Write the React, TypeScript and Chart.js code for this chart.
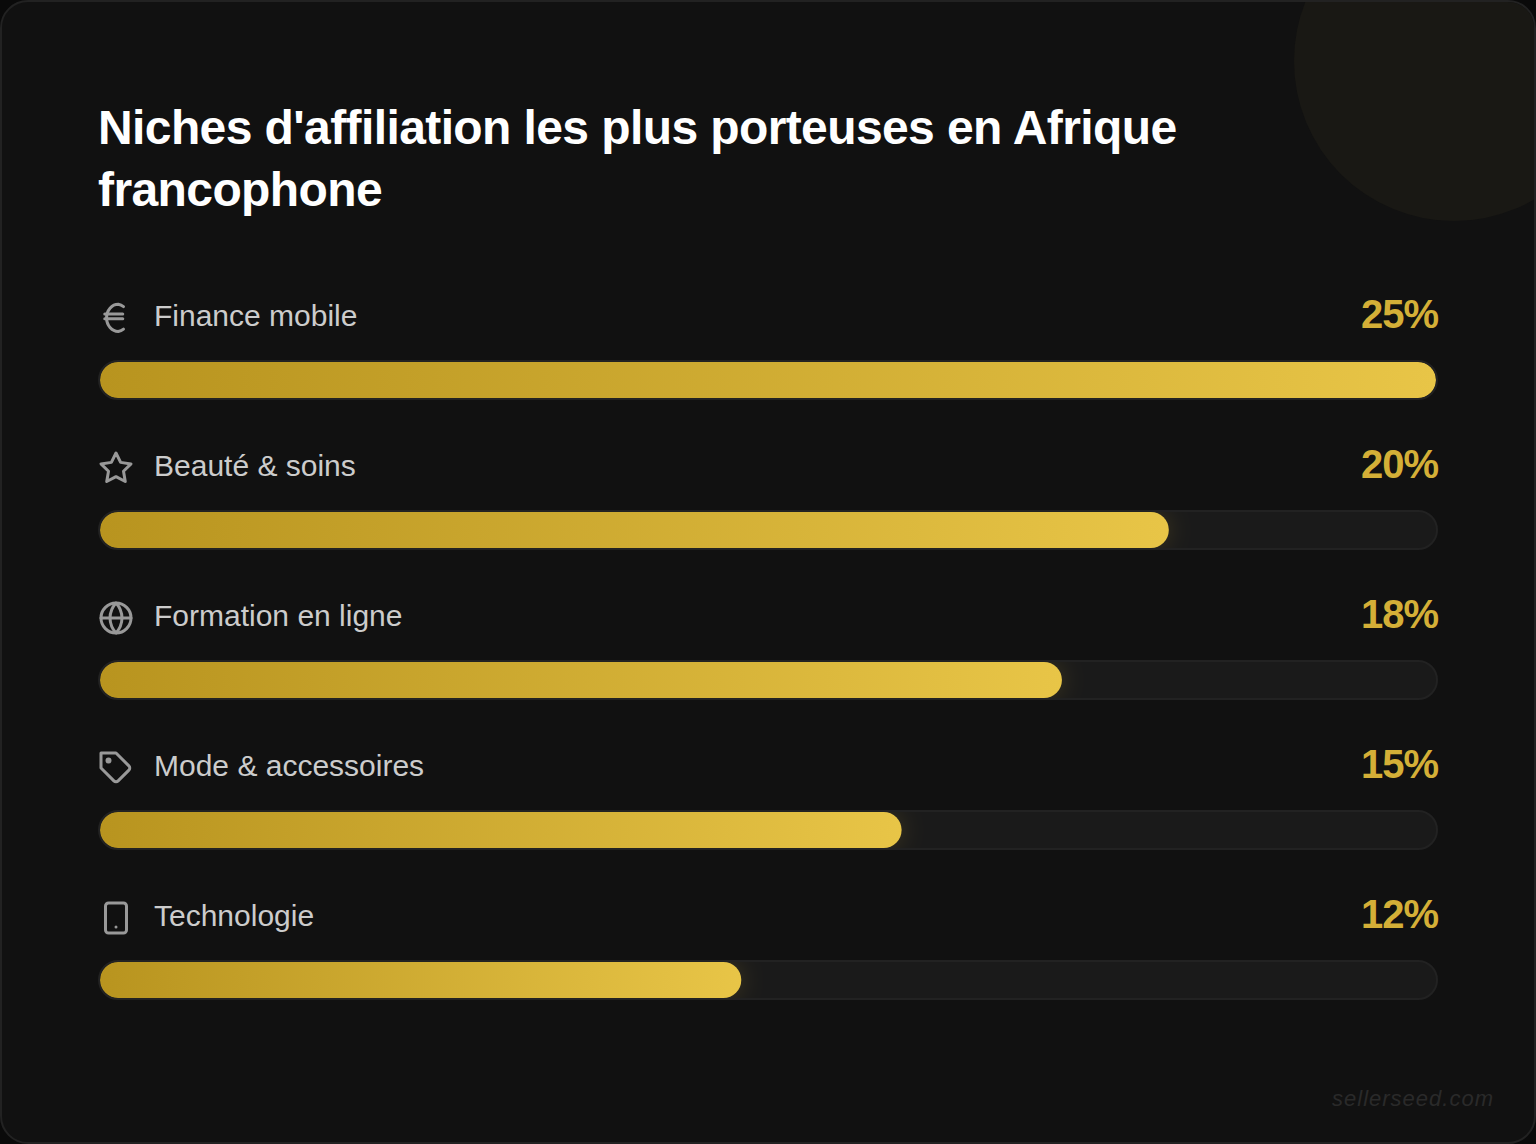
import React, { useEffect, useRef } from "react";
import { Chart, registerables } from "chart.js";

Chart.register(...registerables);

const categories = ["Finance mobile", "Beauté & soins", "Formation en ligne", "Mode & accessoires", "Technologie"];
const shares = [25, 20, 18, 15, 12];
const scaleMax = 25;
const titleText = "Niches d'affiliation les plus porteuses en Afrique francophone";
const watermark = "sellerseed.com";

const font = '"Liberation Sans", Arial, sans-serif';
const gradientStart = "#b8941f";
const gradientEnd = "#e8c547";

function Icon({ index }: { index: number }) {
  const common = { fill: "none", stroke: "#999999", strokeWidth: 2, strokeLinecap: "round", strokeLinejoin: "round" } as any;
  const shapes = [
    <g {...common}><path d="M4.5 9.3h12" /><path d="M4.5 12.5h12" /><path d="M17 4.4A8 8 0 0 0 13.5 2.8C9.3 2.8 5.7 6.8 5.7 11.9s3.6 9.1 7.8 9.1A8 8 0 0 0 17 19.4" /></g>,
    <g {...common}><polygon points="12 2 15.09 8.26 22 9.27 17 14.14 18.18 21.02 12 17.77 5.82 21.02 7 14.14 2 9.27 8.91 8.26 12 2" /></g>,
    <g {...common}><circle cx="12" cy="12" r="10" /><line x1="2" y1="12" x2="22" y2="12" /><path d="M12 2a15.3 15.3 0 0 1 4 10 15.3 15.3 0 0 1-4 10 15.3 15.3 0 0 1-4-10 15.3 15.3 0 0 1 4-10z" /></g>,
    <g {...common}><path d="M20.59 13.41l-7.17 7.17a2 2 0 0 1-2.83 0L2 12V2h10l8.59 8.59a2 2 0 0 1 0 2.82z" /><circle cx="7" cy="7" r="1" fill="#999999" /></g>,
    <g {...common}><rect x="5" y="2" width="14" height="20" rx="2" ry="2" /><line x1="12" y1="18" x2="12.01" y2="18" /></g>,
  ];
  return (
    <svg width="36" height="36" viewBox="0 0 24 24" style={{ position: "absolute", left: 98, top: 300 + index * 150, display: "block" }}>
      {shapes[index]}
    </svg>
  );
}

const trackPlugin = {
  id: "tracks",
  beforeDatasetsDraw(chart: any) {
    const { ctx } = chart;
    const x = chart.scales.x;
    const y = chart.scales.y;
    ctx.save();
    categories.forEach((_, i) => {
      const c = y.getPixelForValue(i);
      ctx.beginPath();
      ctx.roundRect(x.left - 1, c - 19, x.right - x.left + 2, 38, 19);
      ctx.fillStyle = "#1a1a1a";
      ctx.fill();
      ctx.lineWidth = 2;
      ctx.strokeStyle = "#222222";
      ctx.stroke();
    });
    ctx.restore();
  },
  beforeDatasetDraw(chart: any) {
    const { ctx } = chart;
    const x = chart.scales.x;
    const y = chart.scales.y;
    ctx.save();
    ctx.beginPath();
    categories.forEach((_, i) => {
      ctx.roundRect(x.left, y.getPixelForValue(i) - 18, x.right - x.left, 36, 18);
    });
    ctx.clip();
    ctx.shadowColor = "rgba(212,175,55,0.2)";
    ctx.shadowBlur = 24;
  },
  afterDatasetDraw(chart: any) {
    chart.ctx.restore();
  },
};

export default function App() {
  const ref = useRef<HTMLCanvasElement | null>(null);
  useEffect(() => {
    document.body.style.margin = "0";
    document.body.style.background = "#0a0a0a";
    const chart = new Chart(ref.current as HTMLCanvasElement, {
      type: "bar",
      data: {
        labels: categories,
        datasets: [
          {
            data: shares,
            barThickness: 36,
            borderRadius: 18,
            borderSkipped: false,
            inflateAmount: 0,
            backgroundColor: (c: any) => {
              const x = c.chart.scales.x;
              const v = shares[c.dataIndex];
              if (!x || v === undefined) return gradientEnd;
              const a = x.getPixelForValue(0);
              const b = x.getPixelForValue(v);
              if (!Number.isFinite(a) || !Number.isFinite(b)) return gradientEnd;
              const g = c.chart.ctx.createLinearGradient(a, 0, b, 0);
              g.addColorStop(0, gradientStart);
              g.addColorStop(1, gradientEnd);
              return g;
            },
          } as any,
        ],
      },
      options: {
        indexAxis: "y",
        animation: false,
        responsive: false,
        events: [],
        layout: { padding: { left: 100, right: 100, top: 0, bottom: 0 } },
        plugins: { legend: { display: false }, title: { display: false }, tooltip: { enabled: false } },
        scales: {
          x: { display: false, min: 0, max: scaleMax },
          y: { display: false },
        },
      },
      plugins: [trackPlugin],
    } as any);
    return () => chart.destroy();
  }, []);

  return (
    <div style={{ position: "absolute", left: 0, top: 0, width: 1536, height: 1144, background: "#0a0a0a", fontFamily: font }}>
      <div style={{ position: "absolute", inset: 0, boxSizing: "border-box", background: "#111111", border: "2px solid #222222", borderRadius: 28, overflow: "hidden" }}>
        <div style={{ position: "absolute", left: 1292, top: -101, width: 320, height: 320, borderRadius: "50%", background: "#191814" }} />
      </div>
      <div style={{ position: "absolute", left: 98, top: 97, width: 1340, fontSize: 48, lineHeight: "62px", fontWeight: 700, color: "#ffffff", letterSpacing: -0.6 }}>
        {titleText}
      </div>
      {categories.map((name, i) => (
        <React.Fragment key={name}>
          <Icon index={i} />
          <div style={{ position: "absolute", left: 154, top: 298 + i * 150, fontSize: 30, lineHeight: "36px", color: "#cccccc", whiteSpace: "nowrap" }}>{name}</div>
          <div style={{ position: "absolute", right: 98, top: 291 + i * 150, fontSize: 40, lineHeight: "46px", fontWeight: 700, color: "#d4af37", letterSpacing: -1, whiteSpace: "nowrap" }}>{shares[i]}%</div>
        </React.Fragment>
      ))}
      <canvas ref={ref} width={1536} height={750} style={{ position: "absolute", left: 0, top: 305, width: 1536, height: 750, display: "block" }} />
      <div style={{ position: "absolute", right: 42, top: 1085, fontSize: 22, lineHeight: "28px", fontStyle: "italic", color: "#2a2a2a", letterSpacing: 1, whiteSpace: "nowrap" }}>{watermark}</div>
    </div>
  );
}
